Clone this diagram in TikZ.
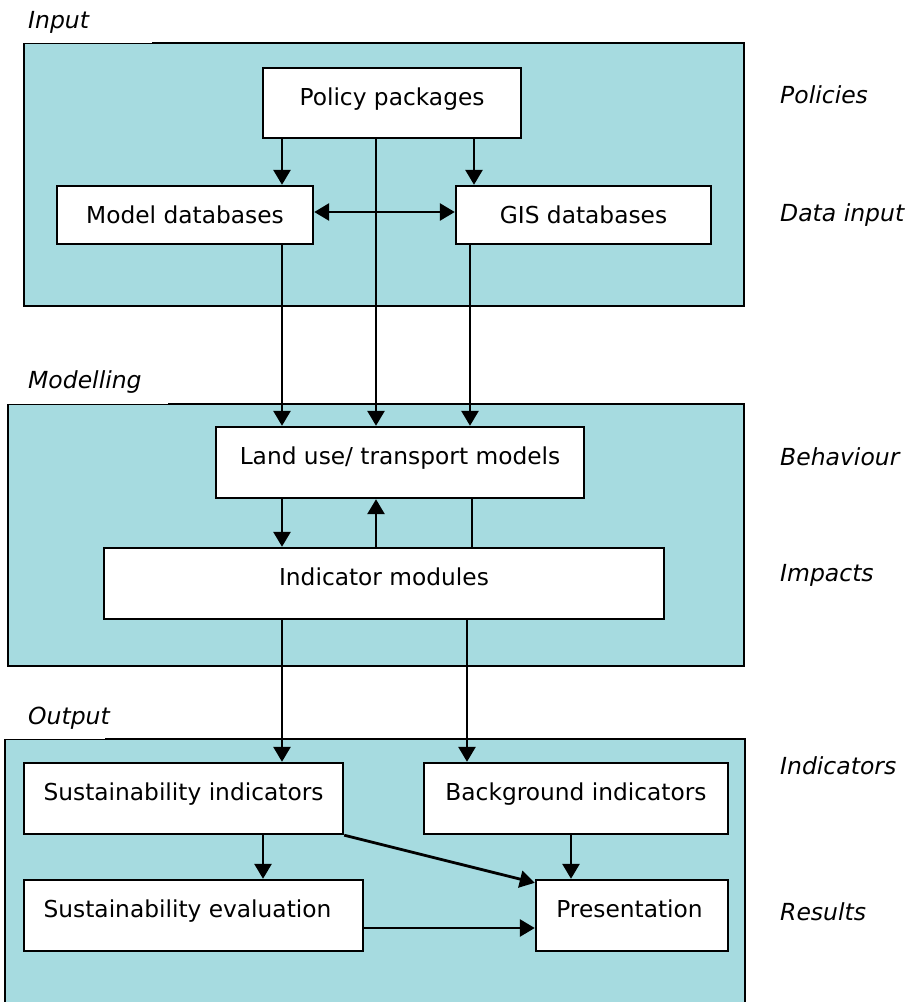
\documentclass[tikz,border=0pt]{standalone}
\usepackage{fontspec}
\setmainfont{DejaVu Sans}
\usetikzlibrary{arrows.meta,calc}
\definecolor{panelfill}{RGB}{166,219,224}
\tikzset{
  panel/.style={draw=black, line width=2.4pt, fill=panelfill},
  box/.style={draw=black, line width=2.4pt, fill=white, inner sep=0pt,
    font=\fontsize{23.3}{26}\selectfont, text height=17pt, text depth=13pt},
  flatbox/.style={box, text depth=0pt},
  tag/.style={font=\fontsize{23.5}{26}\selectfont\itshape, anchor=west, inner sep=0pt},
  tip/.style={Triangle[length=15pt,width=17pt]},
  arr/.style={line width=2.8pt, -{Triangle[length=15pt,width=17pt]}},
  biarr/.style={line width=2.8pt, {Triangle[length=15pt,width=17pt]}-{Triangle[length=15pt,width=17pt]}},
  plain/.style={line width=2.8pt}
}
\begin{document}
\begin{tikzpicture}[x=1pt,y=-1pt]
\useasboundingbox (0,0) rectangle (909,1002);
\clip (0,0) rectangle (909,1002);

% the three stage panels
\draw[panel] (24,43) rectangle (744,306);
\draw[panel] (8,404) rectangle (744,666);
\draw[panel] (5,739) rectangle (745,1030);

% panel captions, sitting on the top edge of each panel
\fill[white] (22,20) rectangle (152,42.5);
\fill[white] (6,380) rectangle (168,403.5);
\fill[white] (3,715) rectangle (105,738.5);
\node[tag] (tinput) at (28,22) {Input};
\node[tag] (tmodel) at (28,382) {Modelling};
\node[tag] (toutput) at (28,718) {Output};

% stage descriptions on the right
\node[tag] (lpol) at (780,95) {Policies};
\node[tag] (ldat) at (780,215) {Data input};
\node[tag] (lbeh) at (780,457) {Behaviour};
\node[tag] (limp) at (780,575) {Impacts};
\node[tag] (lind) at (780,766) {Indicators};
\node[tag] (lres) at (780,912) {Results};

% boxes
\node[box, minimum width=258pt, minimum height=70pt] (pol) at (392,103) {Policy packages};
\node[flatbox, minimum width=256pt, minimum height=58pt] (mdb) at (185,215) {Model databases};
\node[flatbox, minimum width=255pt, minimum height=58pt] (gis) at (583.5,215) {GIS databases};
\node[box, minimum width=368pt, minimum height=71pt] (lut) at (400,462.5) {Land use/ transport models};
\node[box, minimum width=560pt, minimum height=71pt] (imod) at (384,583.5) {Indicator modules};
\node[box, minimum width=319pt, minimum height=71pt] (sind) at (183.5,798.5) {Sustainability indicators};
\node[box, minimum width=339pt, minimum height=71pt] (sev) at (193.5,915.5) {\hspace*{-12pt}Sustainability evaluation};
\node[box, minimum width=304pt, minimum height=71pt] (bind) at (576,798.5) {Background indicators};
\node[box, minimum width=192pt, minimum height=71pt] (pres) at (632,915.5) {\hspace*{-5pt}Presentation};

% connector columns / rows
\coordinate (xa) at (282,0);
\coordinate (xb) at (376,0);
\coordinate (xc) at (474,0);
\coordinate (xd) at (470,0);
\coordinate (xe) at (472,0);
\coordinate (xf) at (467,0);
\coordinate (xg) at (263,0);
\coordinate (xh) at (571,0);
\coordinate (ya) at (0,212);
\coordinate (yb) at (0,928);

% input stage
\draw[arr] (pol.south -| xa) -- (mdb.north -| xa);
\draw[arr] (pol.south -| xc) -- (gis.north -| xc);
\draw[arr] (pol.south -| xb) -- (lut.north -| xb);
\draw[biarr] (mdb.east |- ya) -- (gis.west |- ya);
\draw[arr] (mdb.south -| xa) -- (lut.north -| xa);
\draw[arr] (gis.south -| xd) -- (lut.north -| xd);

% modelling stage
\draw[arr] (lut.south -| xa) -- (imod.north -| xa);
\draw[arr] (imod.north -| xb) -- (lut.south -| xb);
\draw[plain] (lut.south -| xe) -- (imod.north -| xe);

% output stage
\draw[arr] (imod.south -| xa) -- (sind.north -| xa);
\draw[arr] (imod.south -| xf) -- (bind.north -| xf);
\draw[arr] (sind.south -| xg) -- (sev.north -| xg);
\draw[arr] (sind.south east) -- ($(pres.north west)+(0,4)$);
\draw[arr] (bind.south -| xh) -- (pres.north -| xh);
\draw[arr] (sev.east |- yb) -- (pres.west |- yb);
\end{tikzpicture}
\end{document}
